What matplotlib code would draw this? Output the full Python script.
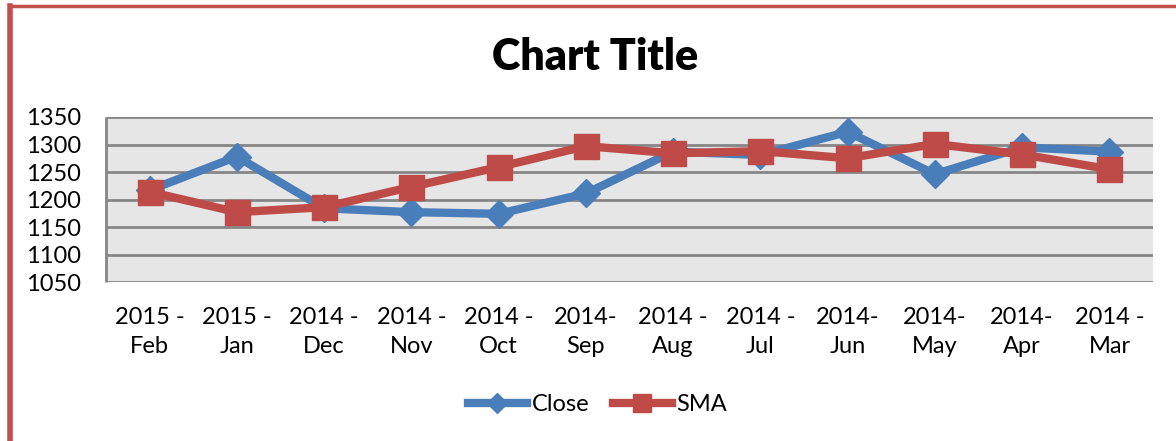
import matplotlib
matplotlib.use("Agg")

import matplotlib.pyplot as plt
from matplotlib.lines import Line2D

plt.rcParams['font.family'] = ['Lato', 'DejaVu Sans']

# data
months = ["2015 -\nFeb", "2015 -\nJan", "2014 -\nDec", "2014 -\nNov", "2014 -\nOct", "2014-\nSep",
          "2014 -\nAug", "2014 -\nJul", "2014-\nJun", "2014-\nMay", "2014-\nApr", "2014 -\nMar"]
close = [1217, 1278, 1184, 1177, 1174, 1211, 1287, 1281, 1323, 1246, 1295, 1287]
sma = [1214, 1177, 1186, 1223, 1259, 1297, 1284, 1288, 1275, 1301, 1282, 1255]
yticks = [1050, 1100, 1150, 1200, 1250, 1300, 1350]

blue = "#4A7EBB"
red = "#BE4B48"

fig = plt.figure(figsize=(11.76, 4.41), dpi=100)
ax = fig.add_axes([0.0901, 0.3605, 0.8904, 0.3742])
ax.set_facecolor("#E6E6E6")

x = list(range(len(months)))
ax.plot(x, close, color=blue, lw=6, marker="D", markersize=14, label="Close",
        solid_joinstyle="miter", zorder=3)
ax.plot(x, sma, color=red, lw=6, marker="s", markersize=18, label="SMA",
        solid_joinstyle="miter", zorder=4)

ax.set_xlim(-0.5, len(months) - 0.5)
ax.set_ylim(1050, 1350)
ax.set_yticks(yticks)
ax.set_xticks(x)
ax.set_xticklabels(months, fontsize=17, linespacing=1.45)
ax.tick_params(axis="y", labelsize=17, length=0, pad=18)
ax.tick_params(axis="x", length=0, pad=18)
ax.yaxis.grid(True, color="#868686", lw=2)
ax.set_axisbelow(True)
for side in ["top", "right", "bottom"]:
    ax.spines[side].set_visible(False)
ax.spines["left"].set_color("#868686")
ax.spines["left"].set_linewidth(2)
ax.spines["left"].set_capstyle("butt")

fig.text(0.506, 0.871, "Chart Title", ha="center", va="center", fontsize=31, fontweight="heavy")

fig.legend(loc="center", bbox_to_anchor=(0.508, 0.082), ncol=2, frameon=False, fontsize=17,
           handlelength=2.5, handletextpad=0.2, columnspacing=1.0, markerscale=0.7)

# red frame on top and left edge
fig.add_artist(Line2D([0.0085, 1.0], [0.9875, 0.9875], color="#C0504D", lw=2.5))
fig.add_artist(Line2D([0.0085, 0.0085], [0.0, 0.9875], color="#C0504D", lw=4))

fig.savefig("out.png", dpi=100)
